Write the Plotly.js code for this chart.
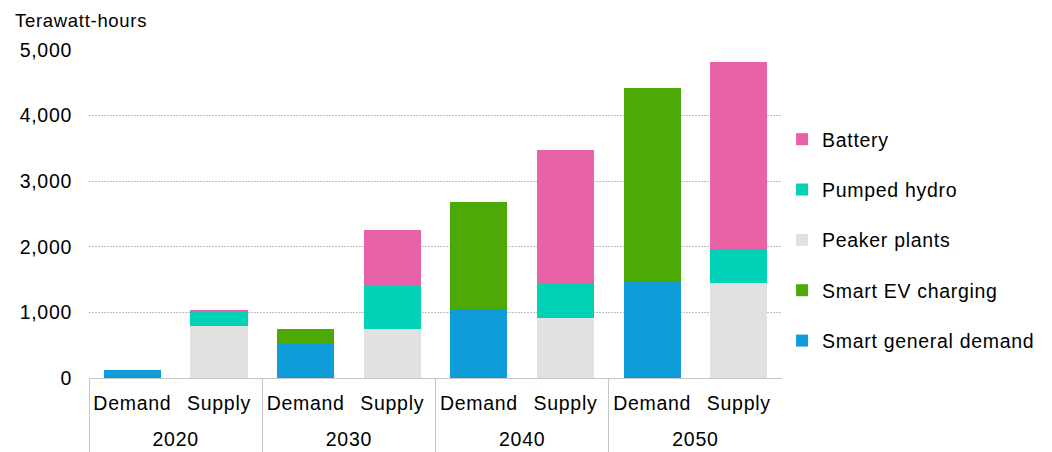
<!DOCTYPE html>
<html><head><meta charset="utf-8">
<script src="https://cdn.plot.ly/plotly-3.0.1.min.js"></script>
<style>
html,body{margin:0;padding:0;background:#fff}
#chart{width:1052px;height:452px}
text{letter-spacing:0.7px !important}
</style>
</head><body><div id="chart"></div>
<script>
const years = ['2020','2020','2030','2030','2040','2040','2050','2050'];
const sides = ['Demand','Supply','Demand','Supply','Demand','Supply','Demand','Supply'];
const smartGeneral = [115, 0, 530, 0, 1058, 0, 1476, 0];
const smartEV      = [0, 0, 213, 0, 1624, 0, 2951, 0];
const peaker       = [0, 790, 0, 748, 0, 916, 0, 1450];
const pumped       = [0, 220, 0, 652, 0, 534, 0, 515];
const battery      = [0, 30, 0, 849, 0, 2031, 0, 2848];
const seriesNames  = ['Smart general demand','Smart EV charging','Peaker plants','Pumped hydro','Battery'];
const seriesColors = ['#109cd9','#4ca906','#e1e1e1','#00d2b5','#e961a6'];
const seriesVals   = [smartGeneral, smartEV, peaker, pumped, battery];

// label spacing helpers (taller invisible pad so the two label rows sit further apart)
const pad = "<span style='font-size:38px'>\u00a0</span>";
const outerLabels = years.map(y => y + '<br>\u00a0');
const innerLabels = sides.map(s => pad + s + pad);

const traces = seriesVals.map((v,i)=>({
  type:'bar', name:seriesNames[i], x:[outerLabels, innerLabels], y:v,
  marker:{color:seriesColors[i], line:{width:0}},
  legendgroup:'g'+i, legendrank: seriesVals.length - i, hoverinfo:'skip'
}));

const font = {family:'"Liberation Sans", Arial, sans-serif', color:'#000'};
const layout = {
  width:1052, height:452,
  margin:{l:89, r:269, t:50, b:74},
  barmode:'stack', bargap:0.34,
  paper_bgcolor:'#fff', plot_bgcolor:'#fff',
  font:Object.assign({size:19.5}, font),
  showlegend:true,
  legend:{xref:'container', yref:'container', x:0.7434, xanchor:'left', y:0.7345, yanchor:'top',
          traceorder:'grouped', tracegroupgap:22, maxheight:320,
          font:Object.assign({size:19.5}, font), itemwidth:30},
  xaxis:{type:'multicategory', showline:true, linecolor:'#c6c6c6', linewidth:1,
         showdividers:true, dividercolor:'#c6c6c6', dividerwidth:1, tickangle:0,
         tickfont:Object.assign({size:19.5}, font), showgrid:false, ticks:'',
         ticklabelstandoff:8},
  yaxis:{range:[0,5000], tickvals:[0,1000,2000,3000,4000,5000],
         ticktext:['0','1,000','2,000','3,000','4,000','5,000'],
         showgrid:true, gridcolor:'#bdbdbd', griddash:'2px,1px', gridwidth:1,
         zeroline:false, showline:false, ticks:'', ticklabelstandoff:16,
         tickfont:Object.assign({size:19.5}, font)},
  annotations:[{text:'Terawatt-hours', xref:'paper', yref:'paper', x:-0.1095, y:1.0, xanchor:'left', yanchor:'bottom',
                yshift:17, showarrow:false, font:Object.assign({size:18.5}, font)}]
};
Plotly.newPlot('chart', traces, layout, {displayModeBar:false, staticPlot:true});
</script></body></html>
